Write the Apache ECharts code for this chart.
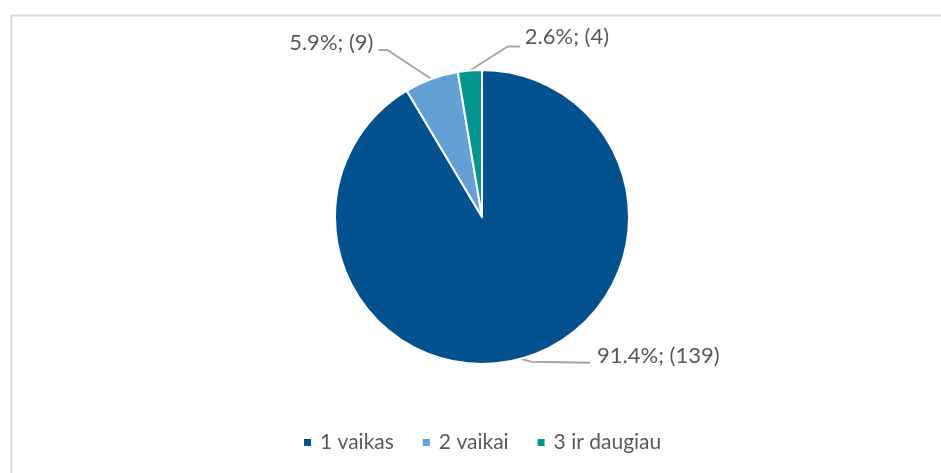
<!DOCTYPE html>
<html>
<head>
<meta charset="utf-8">
<script src="https://cdn.jsdelivr.net/npm/echarts@6/dist/echarts.min.js"></script>
<style>
  html, body { margin: 0; padding: 0; background: #fff; }
  #chart { width: 941px; height: 473px; }
</style>
</head>
<body>
<div id="chart"></div>
<script>
// data
const categories = ["1 vaikas", "2 vaikai", "3 ir daugiau"]
const counts = [139, 9, 4]
const percents = ["91.4%", "5.9%", "2.6%"]
const colors = ["#03518f", "#63a0d5", "#00958f"]

// where each label sits, relative to the slice edge point (line bend, line end, text side)
const labelOffsets = [
  { bend: [10, 3], end: [69, 4], align: "left", gap: 7, dy: -7 },
  { bend: [-44, -29], end: [-53, -29], align: "right", gap: 5, dy: -7 },
  { bend: [38, -24], end: [50, -24], align: "left", gap: 5, dy: -10 }
]

const chart = echarts.init(document.getElementById("chart"))

const data = categories.map((name, i) => ({
  name: name,
  value: counts[i],
  itemStyle: { color: colors[i] }
}))

chart.setOption({
  textStyle: { fontFamily: "Lato, 'Noto Sans', sans-serif" },
  graphic: [
    {
      type: "rect",
      left: 9,
      top: 13,
      shape: { width: 945, height: 470 },
      style: { fill: "none", stroke: "#d9d9d9", lineWidth: 2 },
      silent: true
    }
  ],
  legend: {
    bottom: 20,
    left: 302,
    padding: 0,
    icon: "rect",
    itemWidth: 9,
    itemHeight: 9,
    itemGap: 27,
    textStyle: { color: "#595959", fontSize: 21, padding: [0, 0, 0, 3] },
    data: categories
  },
  series: [
    {
      type: "pie",
      center: [482, 217],
      radius: 147,
      startAngle: 90,
      clockwise: true,
      animation: false,
      itemStyle: { borderColor: "#fff", borderWidth: 2 },
      label: {
        show: true,
        position: "outside",
        color: "#595959",
        fontSize: 22,
        formatter: (p) => percents[p.dataIndex] + "; (" + p.value + ")"
      },
      labelLine: {
        show: true,
        length: 10,
        length2: 20,
        smooth: false,
        lineStyle: { color: "#a6a6a6", width: 2 }
      },
      labelLayout: (params) => {
        const o = labelOffsets[params.dataIndex]
        const a = params.labelLinePoints[0]
        const bend = [a[0] + o.bend[0], a[1] + o.bend[1]]
        const end = [a[0] + o.end[0], a[1] + o.end[1]]
        return {
          x: end[0] + (o.align === "left" ? o.gap : -o.gap),
          y: end[1] + o.dy,
          align: o.align,
          verticalAlign: "middle",
          labelLinePoints: [a, bend, end]
        }
      },
      data: data
    }
  ]
})
</script>
</body>
</html>
